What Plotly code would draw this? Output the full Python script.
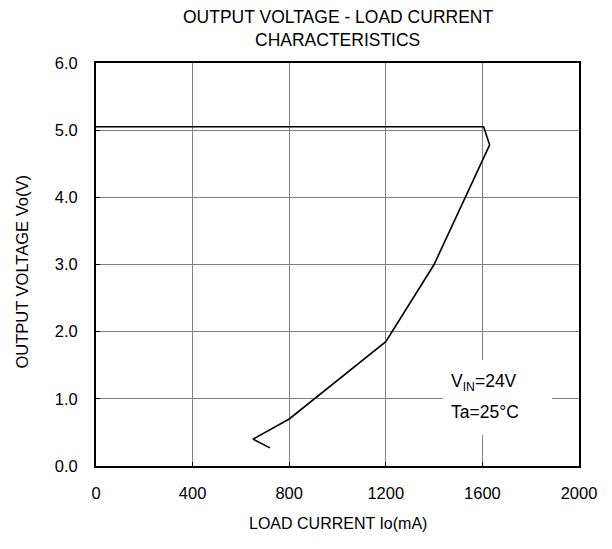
import plotly.graph_objects as go

# Data
load_current_mA = [0, 1605, 1630, 1400, 1200, 800, 650, 720]
output_voltage_V = [5.05, 5.05, 4.78, 3.0, 1.85, 0.7, 0.4, 0.27]

x_ticks = [0, 400, 800, 1200, 1600, 2000]
y_ticks = [0.0, 1.0, 2.0, 3.0, 4.0, 5.0, 6.0]
y_tick_labels = ["0.0", "1.0", "2.0", "3.0", "4.0", "5.0", "6.0"]

title_lines = ["OUTPUT VOLTAGE - LOAD CURRENT", "CHARACTERISTICS"]
x_title = "LOAD CURRENT Io(mA)"
y_title = "OUTPUT VOLTAGE Vo(V)"

font = "Liberation Sans, Arial, sans-serif"

fig = go.Figure()
fig.add_trace(go.Scatter(
    x=load_current_mA, y=output_voltage_V, mode="lines",
    line=dict(color="black", width=1.6), showlegend=False, hoverinfo="skip"))

axis_common = dict(showgrid=True, gridcolor="#808080", gridwidth=1, zeroline=False,
                   showline=True, linecolor="black", linewidth=2, mirror=True,
                   ticks="inside", ticklen=4, tickcolor="black",
                   tickfont=dict(family=font, size=16.5, color="black"))

fig.update_layout(
    width=604, height=541,
    margin=dict(l=88, r=33, t=55, b=83),
    paper_bgcolor="white", plot_bgcolor="white",
    font=dict(family=font, size=15, color="black"),
    xaxis=dict(range=[0, 2000], tickvals=x_ticks, ticklabelstandoff=11, **axis_common),
    yaxis=dict(range=[0, 6], tickvals=y_ticks, ticktext=y_tick_labels,
               ticklabelstandoff=13, **axis_common),
)

# Title (two lines)
fig.add_annotation(x=0.5, y=1, xref="paper", yref="paper", yanchor="middle",
                   yshift=46, showarrow=False, text=title_lines[0],
                   font=dict(family=font, size=17.5, color="black"))
fig.add_annotation(x=0.5, y=1, xref="paper", yref="paper", yanchor="middle",
                   yshift=23, showarrow=False, text=title_lines[1],
                   font=dict(family=font, size=17.5, color="black"))

# Axis titles
fig.add_annotation(x=0.5, y=0, xref="paper", yref="paper", yanchor="middle",
                   yshift=-57, showarrow=False, text=x_title,
                   font=dict(family=font, size=16, color="black"))
fig.add_annotation(x=0, y=0.48, xref="paper", yref="paper", xanchor="center",
                   yanchor="middle", xshift=-74, textangle=-90, showarrow=False,
                   text=y_title, font=dict(family=font, size=16.5, color="black"))

# White box over the gridlines behind the condition text
fig.add_shape(type="rect", xref="x", yref="y", x0=1437, x1=1888, y0=0.46, y1=1.58,
              fillcolor="white", line=dict(width=0), layer="between")
fig.add_annotation(x=1607, y=1.24, xref="x", yref="y", showarrow=False,
                   text="V<sub>IN</sub>=24V",
                   font=dict(family=font, size=17.5, color="black"))
fig.add_annotation(x=1612, y=0.80, xref="x", yref="y", showarrow=False,
                   text="Ta=25°C",
                   font=dict(family=font, size=17.5, color="black"))

fig.write_html("out.html")
